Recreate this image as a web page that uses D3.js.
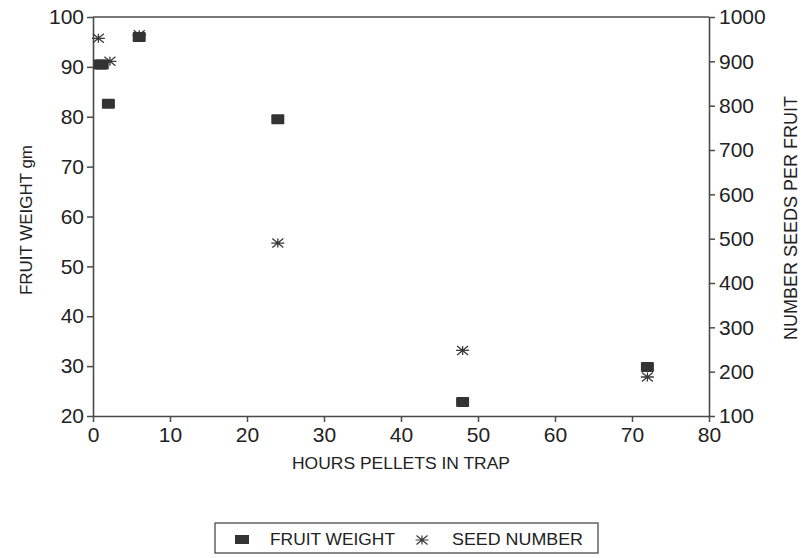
<!DOCTYPE html>
<html lang="en">
<meta charset="utf-8">
<head>
<script src="https://d3js.org/d3.v7.min.js"></script>
<style>
  body { margin: 0; background: #fff; }
  text { font-family: "Liberation Sans", Arial, sans-serif; fill: #222; }
</style>
</head>
<body>
<div id="my_dataviz"></div>
<script>

// fruit weight (left axis)
var fwHours = [0.9, 1.2, 2, 6, 24, 48, 72]
var fwValues = [90.5, 90.5, 82.6, 96, 79.5, 22.8, 29.8]
// seed number (right axis)
var seedHours = [0.7, 2.2, 6, 24, 48, 72]
var seedValues = [952, 900, 960, 490, 248, 188]

var xTicks = [0, 10, 20, 30, 40, 50, 60, 70, 80]
var leftTicks = [20, 30, 40, 50, 60, 70, 80, 90, 100]
var rightTicks = [100, 200, 300, 400, 500, 600, 700, 800, 900, 1000]

var width = 803, height = 558
var margin = {top: 17, right: 94, bottom: 142, left: 93}
var axisColor = "#4a4a4a"

var svg = d3.select("#my_dataviz")
  .append("svg")
  .attr("width", width)
  .attr("height", height)

var xScale = d3.scaleLinear().domain([0, 80]).range([margin.left, width - margin.right])
var yLeft = d3.scaleLinear().domain([20, 100]).range([height - margin.bottom, margin.top])
var yRight = d3.scaleLinear().domain([100, 1000]).range([height - margin.bottom, margin.top])

function styleAxis(g, size) {
  g.selectAll("path, line").attr("stroke", axisColor).attr("stroke-width", 1.5)
  g.selectAll("text").style("font-size", size + "px").attr("fill", "#222")
  g.select(".domain").attr("stroke-width", 1.6)
}

// top frame line
svg.append("line")
  .attr("x1", xScale(0)).attr("x2", xScale(80))
  .attr("y1", yLeft(100)).attr("y2", yLeft(100))
  .attr("stroke", axisColor).attr("stroke-width", 1.6)

// AXIS
svg.append("g")
  .attr("transform", "translate(0," + yLeft(20) + ")")
  .call(d3.axisBottom(xScale).tickValues(xTicks).tickSize(6).tickSizeOuter(0).tickPadding(5))
  .call(g => styleAxis(g, 21))

svg.append("g")
  .attr("transform", "translate(" + xScale(0) + ",0)")
  .call(d3.axisLeft(yLeft).tickValues(leftTicks).tickSize(6).tickSizeOuter(0).tickPadding(3))
  .call(g => styleAxis(g, 21))

svg.append("g")
  .attr("transform", "translate(" + xScale(80) + ",0)")
  .call(d3.axisRight(yRight).tickValues(rightTicks).tickFormat(d3.format("d"))
    .tickSize(6).tickSizeOuter(0).tickPadding(4))
  .call(g => styleAxis(g, 21))

// axis titles
svg.append("text")
  .attr("x", 401).attr("y", 469)
  .attr("text-anchor", "middle")
  .style("font-size", "17px")
  .attr("textLength", 218).attr("lengthAdjust", "spacingAndGlyphs")
  .text("HOURS PELLETS IN TRAP")

svg.append("text")
  .attr("transform", "translate(32,220) rotate(-90)")
  .attr("text-anchor", "middle")
  .style("font-size", "17px")
  .attr("textLength", 150).attr("lengthAdjust", "spacingAndGlyphs")
  .text("FRUIT WEIGHT gm")

svg.append("text")
  .attr("transform", "translate(797,218) rotate(-90)")
  .attr("text-anchor", "middle")
  .style("font-size", "17.5px")
  .attr("textLength", 244).attr("lengthAdjust", "spacingAndGlyphs")
  .text("NUMBER SEEDS PER FRUIT")

// markers
var starPath = "M-6.5,0H6.5M-5.5,-4.5L5.5,4.5M-5.5,4.5L5.5,-4.5M0,-4.5V4.5"

svg.append("g").selectAll("path")
  .data(seedHours.map((h, i) => ({h: h, v: seedValues[i]})))
  .enter()
  .append("path")
    .attr("d", starPath)
    .attr("transform", d => "translate(" + xScale(d.h) + "," + yRight(d.v) + ")")
    .attr("stroke", "#3a3a3a")
    .attr("stroke-width", 1.3)
    .attr("fill", "none")

svg.append("g").selectAll("rect")
  .data(fwHours.map((h, i) => ({h: h, v: fwValues[i]})))
  .enter()
  .append("rect")
    .attr("x", d => xScale(d.h) - 6.5)
    .attr("y", d => yLeft(d.v) - 5)
    .attr("width", 13)
    .attr("height", 10)
    .attr("rx", 1)
    .style("fill", "#333")

// LEGEND
var legend = svg.append("g")
legend.append("rect")
  .attr("x", 215).attr("y", 523).attr("width", 383).attr("height", 30)
  .attr("fill", "none").attr("stroke", axisColor).attr("stroke-width", 1.3)
legend.append("rect")
  .attr("x", 235).attr("y", 535).attr("width", 14).attr("height", 9)
  .style("fill", "#333")
legend.append("text")
  .attr("x", 270).attr("y", 545)
  .style("font-size", "17px")
  .attr("textLength", 125).attr("lengthAdjust", "spacingAndGlyphs")
  .text("FRUIT WEIGHT")
legend.append("path")
  .attr("d", starPath)
  .attr("transform", "translate(422,540)")
  .attr("stroke", "#3a3a3a").attr("stroke-width", 1.2).attr("fill", "none")
legend.append("text")
  .attr("x", 452).attr("y", 545)
  .style("font-size", "17px")
  .attr("textLength", 131).attr("lengthAdjust", "spacingAndGlyphs")
  .text("SEED NUMBER")

</script>
</body>
</html>
